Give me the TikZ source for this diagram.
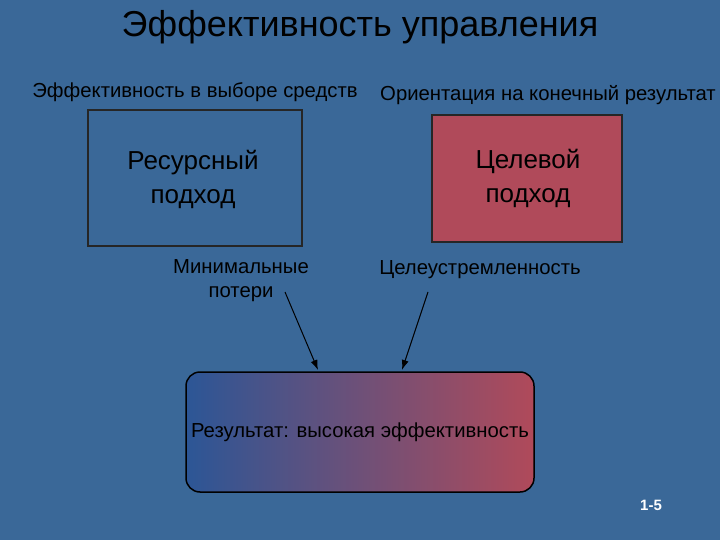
\documentclass[tikz,border=0pt]{standalone}
\usepackage{fontspec}
\setmainfont{Liberation Sans}
\usetikzlibrary{arrows.meta}
\definecolor{bg}{RGB}{58,104,152}
\definecolor{rd}{RGB}{176,74,90}
\definecolor{bl}{RGB}{44,86,150}
\begin{document}
\begin{tikzpicture}[x=1pt,y=-1pt,
  lbl/.style={inner sep=0pt,align=center,text=black},
  boxst/.style={draw=black!85,line width=1.5pt},
  arr/.style={-{Latex[length=10pt,width=7pt]},line width=1pt}]
\fill[bg] (0,0) rectangle (720,540);
\useasboundingbox (0,0) rectangle (720,540);
\node[lbl,font=\fontsize{36}{40}\selectfont] (title) at (360,27) {Эффективность управления};
\node[lbl,font=\fontsize{20.3}{24}\selectfont] (s1) at (195,92) {Эффективность в выборе средств};
\node[lbl,font=\fontsize{20.3}{24}\selectfont] (s2) at (548,95) {Ориентация на конечный результат};
\draw[boxst,fill=bg] (88,110) rectangle (302,246);
\node[lbl,font=\fontsize{26}{34}\selectfont] (a) at (193,179) {Ресурсный\\подход};
\draw[boxst,fill=rd] (432,115) rectangle (622,242);
\node[lbl,font=\fontsize{26}{34}\selectfont] (b) at (528,178) {Целевой\\подход};
\node[lbl,font=\fontsize{20.3}{24}\selectfont] (m) at (241,281) {Минимальные\\потери};
\node[lbl,font=\fontsize{20.3}{24}\selectfont] (c) at (480,270) {Целеустремленность};
\shade[left color=bl,right color=rd,draw=black,line width=1.5pt,rounded corners=14pt] (186,372) rectangle (534,492);
\node[lbl,font=\fontsize{20.3}{24}\selectfont] (r) at (360,432) {Результат: высокая эффективность};
\coordinate (r1) at (318,370);
\coordinate (r2) at (402,370);
\coordinate (m1) at (285,292);
\coordinate (c1) at (428,292);
\draw[arr] (m1) -- (r1);
\draw[arr] (c1) -- (r2);
\node[lbl,text=white,font=\bfseries\fontsize{15}{17}\selectfont] (p) at (651,505) {1-5};
\end{tikzpicture}
\end{document}
